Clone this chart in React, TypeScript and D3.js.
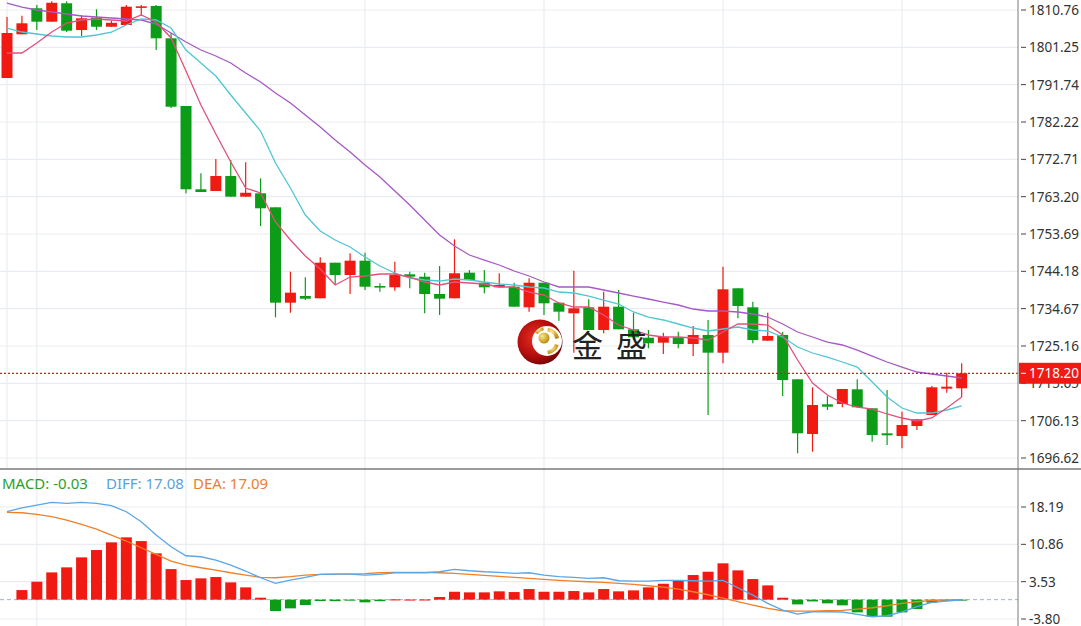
import React, { useEffect, useRef } from 'react';
import * as d3 from 'd3';

// K-line: open, high, low, close per bar
const opens = [1793.44, 1804.57, 1811.19, 1807.78, 1812.47, 1805.66, 1808.80, 1806.50, 1806.94, 1811.45,
  1811.78, 1803.55, 1786.30, 1765.08, 1764.65, 1768.47, 1763.20, 1764.06, 1760.49, 1736.19,
  1737.90, 1737.31, 1746.38, 1743.24, 1746.89, 1740.44, 1740.11, 1743.42, 1742.81, 1738.40,
  1737.31, 1743.84, 1741.28, 1740.11, 1740.26, 1735.01, 1741.28, 1736.19, 1733.49, 1735.01,
  1729.23, 1735.17, 1729.41, 1727.27, 1726.00, 1727.37, 1725.66, 1727.96, 1723.45, 1739.86,
  1735.01, 1726.51, 1727.96, 1716.67, 1702.73, 1710.30, 1710.38, 1714.12, 1709.28, 1702.91,
  1702.22, 1704.77, 1707.58, 1714.28, 1714.38];
const highs = [1808.98, 1809.30, 1812.03, 1813.00, 1813.00, 1809.49, 1810.94, 1808.00, 1812.03, 1812.03,
  1812.03, 1804.90, 1786.30, 1769.16, 1772.80, 1772.54, 1771.96, 1767.88, 1760.49, 1744.09,
  1742.66, 1747.76, 1746.38, 1748.77, 1748.93, 1741.13, 1746.63, 1744.09, 1743.84, 1745.54,
  1752.34, 1744.52, 1744.52, 1743.68, 1741.28, 1742.40, 1741.28, 1736.19, 1744.34, 1737.05,
  1739.00, 1739.42, 1733.64, 1729.23, 1728.54, 1728.80, 1730.25, 1731.78, 1745.36, 1739.86,
  1736.44, 1733.64, 1728.80, 1716.67, 1714.63, 1712.42, 1714.20, 1716.67, 1709.28, 1713.94,
  1708.42, 1706.48, 1714.96, 1718.35, 1720.75];
const lows = [1793.44, 1804.57, 1805.66, 1807.78, 1805.15, 1804.14, 1805.66, 1806.50, 1806.94, 1809.30,
  1800.57, 1785.79, 1764.06, 1764.39, 1764.65, 1763.20, 1763.20, 1755.73, 1732.47, 1733.64,
  1736.87, 1737.31, 1740.95, 1738.40, 1739.42, 1739.00, 1739.25, 1739.86, 1733.49, 1733.06,
  1737.31, 1741.97, 1738.58, 1740.11, 1735.17, 1733.90, 1733.06, 1731.60, 1723.45, 1729.23,
  1728.39, 1729.41, 1726.68, 1724.57, 1723.10, 1724.57, 1722.60, 1707.58, 1720.75, 1732.22,
  1725.84, 1726.51, 1712.42, 1697.82, 1698.23, 1708.85, 1709.54, 1709.54, 1700.77, 1699.93,
  1699.09, 1703.75, 1707.58, 1713.26, 1712.09];
const closes = [1804.90, 1807.37, 1807.78, 1812.60, 1805.49, 1808.65, 1806.50, 1807.50, 1811.60, 1811.70,
  1803.55, 1786.12, 1765.08, 1764.39, 1768.47, 1763.20, 1764.20, 1760.24, 1736.19, 1738.74,
  1737.21, 1746.38, 1743.24, 1746.89, 1740.26, 1740.11, 1743.24, 1742.81, 1738.40, 1737.21,
  1743.68, 1741.97, 1740.11, 1740.70, 1735.17, 1741.28, 1736.03, 1733.90, 1734.76, 1729.23,
  1735.17, 1729.41, 1727.37, 1725.84, 1727.52, 1725.66, 1727.96, 1723.45, 1739.60, 1735.35,
  1726.68, 1727.70, 1716.49, 1702.91, 1710.12, 1709.69, 1714.20, 1709.54, 1702.48, 1702.40,
  1705.03, 1706.48, 1714.63, 1714.79, 1718.20];

// moving averages
const ma5 = [1799.80, 1799.80, 1802.35, 1805.15, 1807.45, 1808.21, 1808.47, 1808.21, 1807.96, 1809.49,
  1807.70, 1803.63, 1795.22, 1786.56, 1779.17, 1772.03, 1765.41, 1764.14, 1756.75, 1752.16,
  1748.08, 1744.77, 1740.70, 1742.73, 1742.99, 1743.50, 1743.50, 1742.73, 1741.46, 1740.70,
  1741.46, 1741.21, 1740.95, 1740.19, 1740.19, 1738.91, 1738.15, 1736.11, 1735.09, 1735.09,
  1733.05, 1730.50, 1729.23, 1727.96, 1727.45, 1727.45, 1727.19, 1726.68, 1728.72, 1730.76,
  1730.76, 1730.50, 1727.96, 1721.59, 1715.73, 1712.67, 1710.63, 1709.61, 1709.10, 1707.83,
  1706.81, 1706.05, 1706.81, 1709.36, 1712.16];
const ma10 = [1806.17, 1805.15, 1804.65, 1804.14, 1803.88, 1803.88, 1804.39, 1805.15, 1806.94, 1808.47,
  1808.21, 1806.17, 1800.57, 1797.26, 1793.94, 1789.10, 1784.52, 1779.93, 1771.78, 1765.41,
  1758.53, 1754.45, 1752.16, 1750.38, 1747.83, 1745.54, 1743.75, 1742.48, 1741.97, 1741.71,
  1742.22, 1741.97, 1741.46, 1740.95, 1740.70, 1740.19, 1739.93, 1738.91, 1738.66, 1737.89,
  1736.87, 1735.85, 1733.82, 1732.54, 1731.78, 1730.76, 1729.74, 1728.98, 1729.49, 1729.99,
  1729.23, 1728.98, 1727.45, 1724.90, 1723.37, 1722.35, 1721.08, 1719.80, 1715.98, 1712.16,
  1709.36, 1708.08, 1708.08, 1708.85, 1709.87];
const ma20 = [1812.54, 1811.52, 1810.76, 1810.25, 1809.74, 1809.23, 1808.98, 1808.72, 1808.47, 1808.21,
  1807.19, 1804.90, 1802.61, 1800.57, 1799.04, 1797.26, 1794.71, 1792.42, 1789.61, 1787.07,
  1784.01, 1780.95, 1777.64, 1774.58, 1771.27, 1768.21, 1764.64, 1761.08, 1757.26, 1753.43,
  1750.63, 1748.34, 1747.06, 1745.79, 1744.26, 1742.99, 1741.46, 1740.19, 1740.19, 1740.19,
  1739.42, 1738.66, 1737.89, 1737.13, 1736.36, 1735.60, 1734.58, 1734.07, 1734.07, 1733.82,
  1733.31, 1732.54, 1730.76, 1728.72, 1727.45, 1726.17, 1725.41, 1724.13, 1722.60, 1721.08,
  1719.80, 1718.53, 1718.02, 1717.51, 1717.00];

// MACD panel
const macdHist = [0, 1.88, 3.52, 5.35, 6.34, 8.30, 9.74, 11.25, 12.23, 11.50,
  9.09, 6.00, 3.85, 4.18, 4.44, 3.39, 2.41, 0.38, -2.24, -1.71,
  -1.06, -0.27, -0.30, -0.20, -0.53, -0.30, 0.05, 0.02, 0.03, 0.51,
  1.55, 1.43, 1.43, 1.63, 1.49, 2.08, 1.55, 1.55, 1.69, 1.43,
  2.08, 1.63, 1.82, 2.41, 3.12, 3.79, 4.83, 5.48, 7.13, 5.75,
  4.04, 2.80, 0.38, -0.93, -0.35, -0.73, -1.12, -2.50, -3.35, -3.35,
  -2.50, -1.85, -0.60, -0.27, -0.03];
const diff = [17.26, 18.04, 18.57, 19.10, 18.91, 19.10, 18.91, 18.44, 17.26, 15.30,
  12.68, 10.39, 8.62, 8.42, 7.78, 6.79, 5.62, 4.30, 3.20, 3.85,
  4.38, 4.97, 5.03, 5.03, 4.83, 4.97, 5.28, 5.28, 5.28, 5.48,
  5.95, 5.67, 5.48, 5.36, 5.16, 5.28, 4.83, 4.50, 4.38, 4.18,
  4.30, 3.71, 3.65, 3.65, 3.79, 3.79, 3.71, 3.65, 3.79, 2.34,
  0.90, -0.73, -2.04, -2.83, -2.38, -2.38, -2.43, -2.89, -3.36, -3.16,
  -2.38, -1.39, -0.53, -0.27, -0.02];
const dea = [17.14, 17.06, 16.75, 16.28, 15.63, 14.79, 13.86, 12.68, 11.51, 10.19,
  8.89, 7.58, 6.79, 6.26, 5.81, 5.28, 4.83, 4.38, 4.30, 4.50,
  4.83, 4.97, 5.03, 5.03, 5.09, 5.28, 5.36, 5.36, 5.36, 5.28,
  5.16, 4.97, 4.77, 4.57, 4.38, 4.18, 3.99, 3.79, 3.65, 3.51,
  3.40, 3.20, 3.00, 2.73, 2.47, 2.08, 1.55, 0.96, 0.31, -0.41,
  -1.06, -1.71, -2.18, -2.24, -2.24, -2.18, -2.10, -1.85, -1.59, -1.20,
  -0.73, -0.41, -0.14, -0.08, -0.02];

const priceTicks = [1810.76, 1801.25, 1791.74, 1782.22, 1772.71, 1763.20, 1753.69, 1744.18, 1734.67, 1725.16, 1715.65, 1706.13, 1696.62];
const macdTicks = [18.19, 10.86, 3.53, -3.80];
const dayBreaks = [0, 2, 12, 24, 36, 48, 60];
const lastPrice = 1718.20;
const macdLabel = { macd: '-0.03', diff: '17.08', dea: '17.09' };

const RED = '#f01a12';
const GREEN = '#0c9c17';
const GRID = '#e9edf2';
const FONT = '"Noto Sans", "DejaVu Sans", sans-serif';

const App: React.FC = () => {
  const svgRef = useRef<SVGSVGElement>(null);

  useEffect(() => {
    document.body.style.margin = '0';
    if (!svgRef.current) return;
    const W = 1081, H = 626;
    const plotRight = 1018;
    const mainBottom = 469;

    const svg = d3.select(svgRef.current);
    svg.selectAll('*').remove();

    const n = closes.length;
    const x = d3.scaleLinear().domain([0, 64]).range([7, 7 + 64 * (179 / 12)]);
    const y = d3.scaleLinear().domain([1696.62, 1810.76]).range([458, 10]);
    const ym = d3.scaleLinear().domain([-3.80, 18.19]).range([619, 507]);

    const defs = svg.append('defs');
    defs.append('clipPath').attr('id', 'mainClip')
      .append('rect').attr('x', 0).attr('y', 0).attr('width', plotRight).attr('height', mainBottom);
    defs.append('clipPath').attr('id', 'macdClip')
      .append('rect').attr('x', 0).attr('y', mainBottom + 1).attr('width', plotRight).attr('height', H - mainBottom);

    const rg = defs.append('radialGradient').attr('id', 'logoRed').attr('cx', '40%').attr('cy', '40%').attr('r', '65%');
    rg.append('stop').attr('offset', '0%').attr('stop-color', '#e8301f');
    rg.append('stop').attr('offset', '65%').attr('stop-color', '#b20d0d');
    rg.append('stop').attr('offset', '100%').attr('stop-color', '#6e0303');
    const gg = defs.append('radialGradient').attr('id', 'logoGold').attr('cx', '35%').attr('cy', '35%').attr('r', '70%');
    gg.append('stop').attr('offset', '0%').attr('stop-color', '#fbe88a');
    gg.append('stop').attr('offset', '100%').attr('stop-color', '#b8860b');

    svg.append('rect').attr('width', W).attr('height', H).attr('fill', '#fff');

    // ---------- grid ----------
    const grid = svg.append('g');
    grid.selectAll('line.hp').data(priceTicks).enter().append('line')
      .attr('x1', 0).attr('x2', plotRight).attr('y1', d => y(d)).attr('y2', d => y(d))
      .attr('stroke', GRID).attr('stroke-width', 1.2);
    grid.selectAll('line.hm').data(macdTicks).enter().append('line')
      .attr('x1', 0).attr('x2', plotRight).attr('y1', d => ym(d)).attr('y2', d => ym(d))
      .attr('stroke', GRID).attr('stroke-width', 1.2);
    grid.selectAll('line.v').data(dayBreaks).enter().append('line')
      .attr('x1', d => x(d)).attr('x2', d => x(d))
      .attr('y1', 0).attr('y2', d => (d === 0 ? mainBottom : H))
      .attr('stroke', GRID).attr('stroke-width', 1.2);

    // ---------- main panel ----------
    const main = svg.append('g').attr('clip-path', 'url(#mainClip)');
    const idx = d3.range(n);
    const up = (i: number) => closes[i] >= opens[i];

    main.selectAll('line.wick').data(idx).enter().append('line')
      .attr('x1', i => x(i)).attr('x2', i => x(i))
      .attr('y1', i => y(highs[i])).attr('y2', i => y(lows[i]))
      .attr('stroke', i => (up(i) ? RED : GREEN)).attr('stroke-width', 1.2);

    main.selectAll('rect.body').data(idx).enter().append('rect')
      .attr('x', i => x(i) - 5.5).attr('width', 11)
      .attr('y', i => y(Math.max(opens[i], closes[i])))
      .attr('height', i => Math.max(1.6, Math.abs(y(opens[i]) - y(closes[i]))))
      .attr('fill', i => (up(i) ? RED : GREEN));

    const maLine = (arr: number[]) => d3.line<number>().x((_, i) => x(i)).y(d => y(d))(arr) || '';
    [[ma20, '#a658c4'], [ma10, '#4fc6d3'], [ma5, '#e3507a']].forEach(([arr, c]) => {
      main.append('path').attr('d', maLine(arr as number[]))
        .attr('fill', 'none').attr('stroke', c as string).attr('stroke-width', 1.3);
    });

    // last price marker
    main.append('line').attr('x1', 0).attr('x2', plotRight)
      .attr('y1', y(lastPrice)).attr('y2', y(lastPrice))
      .attr('stroke', '#e8141b').attr('stroke-width', 1.2).attr('stroke-dasharray', '2,2');

    // watermark logo
    const logo = svg.append('g').attr('transform', 'translate(540,342)');
    logo.append('circle').attr('r', 22.5).attr('fill', 'url(#logoRed)');
    logo.append('circle').attr('cx', 7).attr('cy', -1).attr('r', 15).attr('fill', '#fff');
    const arc = d3.arc<any>();
    logo.append('path').attr('transform', 'translate(6,-1)')
      .attr('d', arc({ innerRadius: 9.5, outerRadius: 13.5, startAngle: 0.15, endAngle: 1.35 }) || '')
      .attr('fill', 'url(#logoGold)');
    logo.append('path').attr('transform', 'translate(6,-1)')
      .attr('d', arc({ innerRadius: 9.5, outerRadius: 13.5, startAngle: 1.9, endAngle: 3.0 }) || '')
      .attr('fill', 'url(#logoGold)');
    logo.append('path').attr('transform', 'translate(6,-1)')
      .attr('d', arc({ innerRadius: 11, outerRadius: 14, startAngle: -0.9, endAngle: -0.2 }) || '')
      .attr('fill', 'url(#logoGold)');
    logo.append('circle').attr('cx', 4).attr('cy', -4).attr('r', 5.5).attr('fill', 'url(#logoGold)');
    svg.append('text').attr('x', 572).attr('y', 357)
      .attr('font-family', '"Noto Sans CJK SC", sans-serif').attr('font-size', 31)
      .attr('fill', '#222').text('金');
    svg.append('text').attr('x', 616).attr('y', 357)
      .attr('font-family', '"Noto Sans CJK SC", sans-serif').attr('font-size', 31)
      .attr('fill', '#222').text('盛');

    // ---------- MACD panel ----------
    const mp = svg.append('g').attr('clip-path', 'url(#macdClip)');
    mp.append('line').attr('x1', 0).attr('x2', plotRight).attr('y1', ym(0)).attr('y2', ym(0))
      .attr('stroke', '#9fb5cc').attr('stroke-width', 1).attr('stroke-dasharray', '4,3');
    mp.selectAll('rect.hist').data(idx).enter().append('rect')
      .attr('x', i => x(i) - 5.5).attr('width', 11)
      .attr('y', i => Math.min(ym(0), ym(macdHist[i])))
      .attr('height', i => Math.max(macdHist[i] === 0 ? 0 : 1, Math.abs(ym(macdHist[i]) - ym(0))))
      .attr('fill', i => (macdHist[i] >= 0 ? RED : GREEN));
    const mLine = (arr: number[]) => d3.line<number>().x((_, i) => x(i)).y(d => ym(d))(arr) || '';
    mp.append('path').attr('d', mLine(dea)).attr('fill', 'none').attr('stroke', '#f0802a').attr('stroke-width', 1.3);
    mp.append('path').attr('d', mLine(diff)).attr('fill', 'none').attr('stroke', '#5aa6e6').attr('stroke-width', 1.3);

    const lab = svg.append('g').attr('font-family', FONT).attr('font-size', 15);
    lab.append('text').attr('x', 2).attr('y', 489).attr('fill', '#2b9e2b').text(`MACD: ${macdLabel.macd}`);
    lab.append('text').attr('x', 106).attr('y', 489).attr('fill', '#5b9fe0').text(`DIFF: ${macdLabel.diff}`);
    lab.append('text').attr('x', 193).attr('y', 489).attr('fill', '#ef7d2e').text(`DEA: ${macdLabel.dea}`);

    // ---------- frame & axes ----------
    svg.append('line').attr('x1', 0).attr('x2', W).attr('y1', mainBottom).attr('y2', mainBottom)
      .attr('stroke', '#7a7a7a').attr('stroke-width', 1.5);
    svg.append('line').attr('x1', plotRight).attr('x2', plotRight).attr('y1', 0).attr('y2', H)
      .attr('stroke', '#7a7a7a').attr('stroke-width', 1);

    const axis = svg.append('g').attr('font-family', FONT).attr('font-size', 13.5).attr('fill', '#333');
    const tickRows = [
      ...priceTicks.map(v => ({ v, yy: y(v) })),
      ...macdTicks.map(v => ({ v, yy: ym(v) })),
    ];
    tickRows.forEach(({ v, yy }) => {
      axis.append('line').attr('x1', plotRight + 3).attr('x2', plotRight + 8)
        .attr('y1', yy).attr('y2', yy).attr('stroke', '#444').attr('stroke-width', 1);
      axis.append('text').attr('x', plotRight + 11).attr('y', yy).attr('dy', '0.36em').text(v.toFixed(2));
    });

    const ly = y(lastPrice);
    svg.append('rect').attr('x', plotRight + 1).attr('y', ly - 10.5).attr('width', W - plotRight).attr('height', 21)
      .attr('fill', RED);
    svg.append('line').attr('x1', plotRight + 3).attr('x2', plotRight + 8).attr('y1', ly).attr('y2', ly)
      .attr('stroke', '#fff');
    svg.append('text').attr('x', plotRight + 11).attr('y', ly).attr('dy', '0.36em')
      .attr('font-family', FONT).attr('font-size', 13.5).attr('fill', '#fff').text(lastPrice.toFixed(2));
  }, []);

  return <svg ref={svgRef} width={1081} height={626} style={{ display: 'block' }} />;
};

export default App;
